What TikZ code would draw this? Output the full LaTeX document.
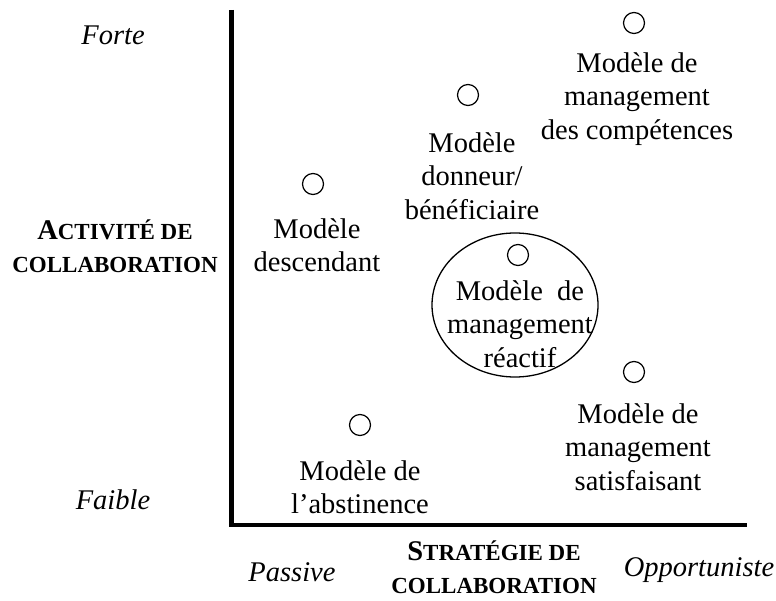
\documentclass[tikz,border=0pt]{standalone}
\usepackage{fontspec}
\setmainfont{Liberation Serif}
\usetikzlibrary{shapes.geometric}

\newcommand{\textsize}{\fontsize{28.5}{33.5}\selectfont}
\newcommand{\capsize}{\fontsize{23}{33}\selectfont}
\newcommand{\capinit}[1]{{\fontsize{28.5}{33}\selectfont #1}}

\begin{document}
\begin{tikzpicture}[
		x=1pt, y=-1pt,
		point/.style={draw, circle, line width=1.2pt, minimum size=21pt, inner sep=0pt},
		model/.style={align=center, inner sep=0pt, font=\textsize},
		level/.style={inner sep=0pt, font=\textsize\itshape},
		title/.style={align=center, inner sep=0pt, font=\bfseries\capsize},
		axis/.style={line width=4.5pt}]
		
		\useasboundingbox (0,0) rectangle (776,601);
		
		% Axes
		\coordinate (top) at (231.5,10);
		\coordinate (end) at (747,525);
		\draw[axis] (top) |- (end);
		
		% Vertical axis labels
		\node[level] (forte) at (113,35) {Forte};
		\node[level] (faible) at (113,500) {Faible};
		\node[title] (activite) at (115,246) {\capinit{A}CTIVITÉ DE\\COLLABORATION};
		
		% Horizontal axis labels
		\node[level] (passive) at (292,572) {Passive};
		\node[level] (opportuniste) at (699,570) {Opportuniste};
		\node[title] (strategie) at (494,567) {\capinit{S}TRATÉGIE DE\\COLLABORATION};
		
		% Models
		\node[point] (competences) at (634,23) {};
		\node[model] (competences text) at (637,99) {Modèle de\\management\\des compétences};
		
		\node[point] (donneur) at (468,95) {};
		\node[model] (donneur text) at (472,176) {Modèle\\donneur/\\bénéficiaire};
		
		\node[point] (descendant) at (313,184) {};
		\node[model] (descendant text) at (317,245) {Modèle\\descendant};
		
		\node[draw, ellipse, line width=1.3pt, minimum width=166pt, minimum height=144pt] (reactif zone) at (515,305) {};
		\node[point] (reactif) at (518,255) {};
		\node[model] (reactif text) at (520,324) {Modèle\ \ de\\management\\réactif};
		
		\node[point] (satisfaisant) at (634,372) {};
		\node[model] (satisfaisant text) at (638,447) {Modèle de\\management\\satisfaisant};
		
		\node[point] (abstinence) at (360,425) {};
		\node[model] (abstinence text) at (360,487) {Modèle de\\l’abstinence};
		
\end{tikzpicture}
\end{document}
